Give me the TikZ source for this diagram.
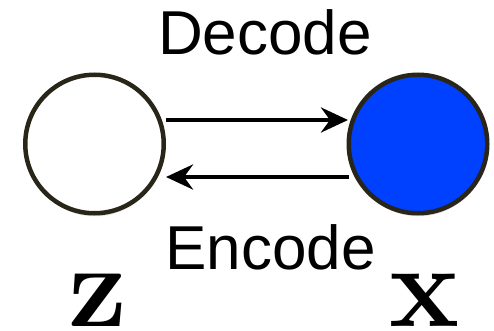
\documentclass[tikz,border=0pt]{standalone}
\usepackage{fontspec}
\newfontfamily\hv{Liberation Sans}
\usetikzlibrary{arrows.meta,calc,shadows}
\definecolor{rim}{HTML}{2A2519}
\definecolor{fillblue}{HTML}{0040FF}
\begin{document}
\begin{tikzpicture}[x=1pt,y=1pt,
  var/.style={circle,draw=rim,line width=4.5pt,minimum size=138.5pt,inner sep=0pt,
    drop shadow={opacity=0.25,shadow xshift=0.5pt,shadow yshift=-3pt}},
  conn/.style={line width=4.5pt,-{Stealth[length=27pt,width=25pt,inset=9pt]}},
  lab/.style={font=\hv\fontsize{62}{62}\selectfont,anchor=base,inner sep=0pt},
  sym/.style={font=\fontsize{118}{118}\selectfont\bfseries,anchor=base,inner sep=0pt}]
\useasboundingbox (0,0) rectangle (494,330);
\node[var,fill=white] (L) at (94.5,186) {};
\node[var,fill=fillblue] (R) at (418,186) {};
\coordinate (a1) at ($(L.east)+(0,24)$);
\coordinate (a2) at ($(R.west)+(1.5,24)$);
\coordinate (b1) at ($(R.west)+(2,-33)$);
\coordinate (b2) at ($(L.east)+(0,-33)$);
\draw[conn] (a1) -- (a2);
\draw[conn] (b1) -- (b2);
\node[lab] (dec) at (265,276) {Decode};
\node[lab] (enc) at (270.5,61) {Encode};
\node[sym] (z) at (98,4) {z};
\node[sym] (x) at (425,4) {x};
\end{tikzpicture}
\end{document}
